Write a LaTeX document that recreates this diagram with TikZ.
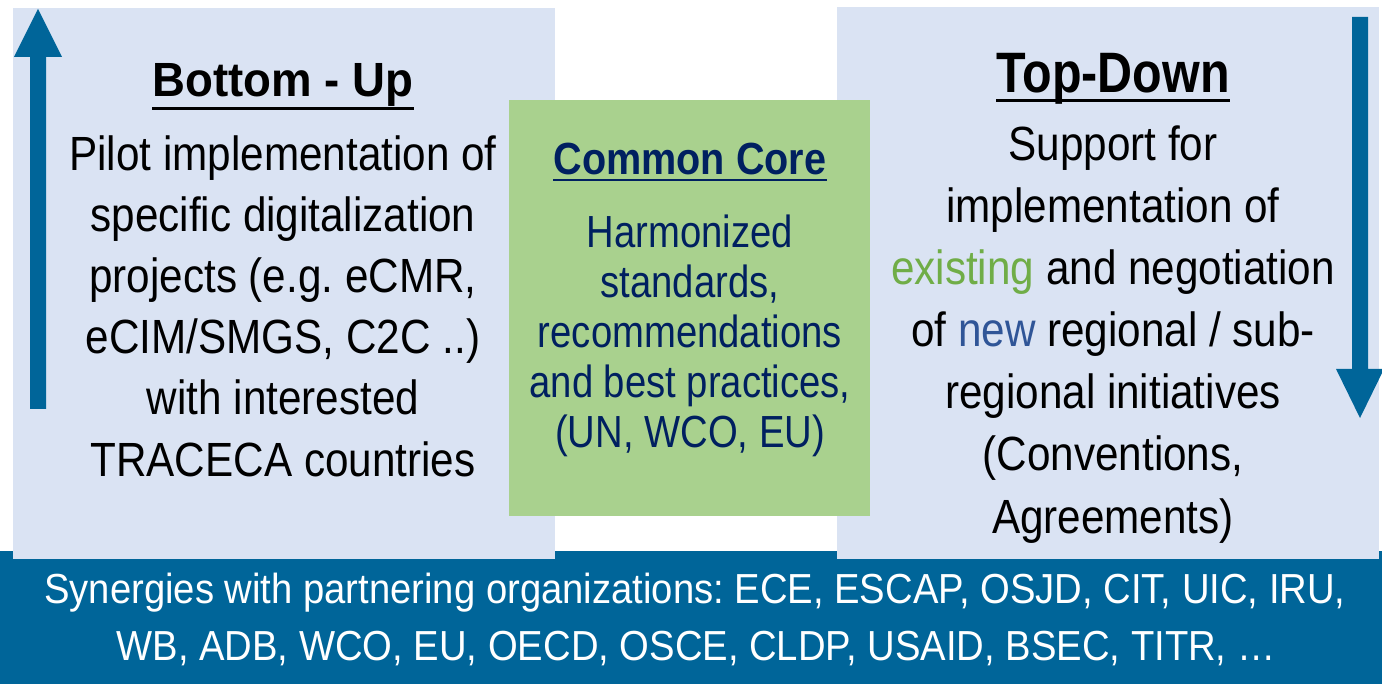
\documentclass[tikz,border=0pt]{standalone}
\usepackage{fontspec}
\setmainfont{Liberation Sans}
\frenchspacing
\definecolor{boxblue}{HTML}{DAE3F3}
\definecolor{coregreen}{HTML}{A9D18E}
\definecolor{barblue}{RGB}{0,101,153}
\definecolor{navy}{HTML}{002060}
\definecolor{exgreen}{HTML}{70AD47}
\definecolor{newblue}{HTML}{2F5597}
\begin{document}
\begin{tikzpicture}[x=1pt,y=-1pt,
    body/.style={anchor=base,inner sep=0pt,font=\fontsize{48}{58}\selectfont,xscale=0.88},
    corebody/.style={anchor=base,inner sep=0pt,text=navy,font=\fontsize{45}{50}\selectfont,xscale=0.85},
    bartext/.style={anchor=base,inner sep=0pt,text=white,font=\fontsize{42}{57}\selectfont,xscale=0.91},
    title/.style={anchor=base,inner sep=0pt,font=\bfseries\fontsize{#1}{#1}\selectfont}]
  \useasboundingbox (0,0) rectangle (1382,684);

  \fill[barblue] (0,551) rectangle (1382,684); % bottom bar
  \fill[boxblue] (13,8) rectangle (555,559);   % bottom-up
  \fill[boxblue] (837,7) rectangle (1379,559); % top-down
  \fill[coregreen] (509,100) rectangle (870,516); % common core

  % arrows
  \fill[barblue] (30,409)--(30,57)--(14,57)--(38,9)--(62,57)--(46,57)--(46,409)--cycle;
  \fill[barblue] (1352,17)--(1352,369)--(1336,369)--(1360,418)--(1384,369)--(1368,369)--(1368,17)--cycle;

  % Bottom - Up
  \node[title=48,xscale=0.95] (butitle) at (283,97) {Bottom - Up};
  \draw[line width=3pt] ([yshift=-11.5pt]butitle.base west)--([yshift=-11.5pt]butitle.base east);
  \foreach \txt [count=\i] in {{Pilot implementation of},{specific digitalization},
      {projects (e.g. eCMR,},{eCIM/SMGS, C2C ..)},{with interested},{TRACECA countries}}
    \node[body] (bu\i) at (283,{171+61*(\i-1)}) {\txt};

  % Top-Down
  \node[title=57,xscale=0.85] (tdtitle) at (1113,93) {Top-Down};
  \draw[line width=3pt] ([yshift=-8pt]tdtitle.base west)--([yshift=-8pt]tdtitle.base east);
  \foreach \txt [count=\i] in {{Support for},{implementation of},
      {\textcolor{exgreen}{existing} and negotiation},{of \textcolor{newblue}{new} regional / sub-},
      {regional initiatives},{(Conventions,},{Agreements)}}
    \node[body] (td\i) at (1113,{161+62*(\i-1)}) {\txt};

  % Common Core
  \node[title=45,text=navy,xscale=0.88] (cctitle) at (690,175) {Common Core};
  \draw[navy,line width=2.5pt] ([yshift=-5pt]cctitle.base west)--([yshift=-5pt]cctitle.base east);
  \foreach \txt [count=\i] in {{Harmonized},{standards,},{recommendations},
      {and best practices,},{(UN, WCO, EU)}}
    \node[corebody] (cc\i) at (690,{248+50*(\i-1)}) {\txt};

  % partners
  \node[bartext] (syn1) at (695,603) {Synergies with partnering organizations: ECE, ESCAP, OSJD, CIT, UIC, IRU,};
  \node[bartext] (syn2) at (696,660) {WB, ADB, WCO, EU, OECD, OSCE, CLDP, USAID, BSEC, TITR, …};
\end{tikzpicture}
\end{document}
